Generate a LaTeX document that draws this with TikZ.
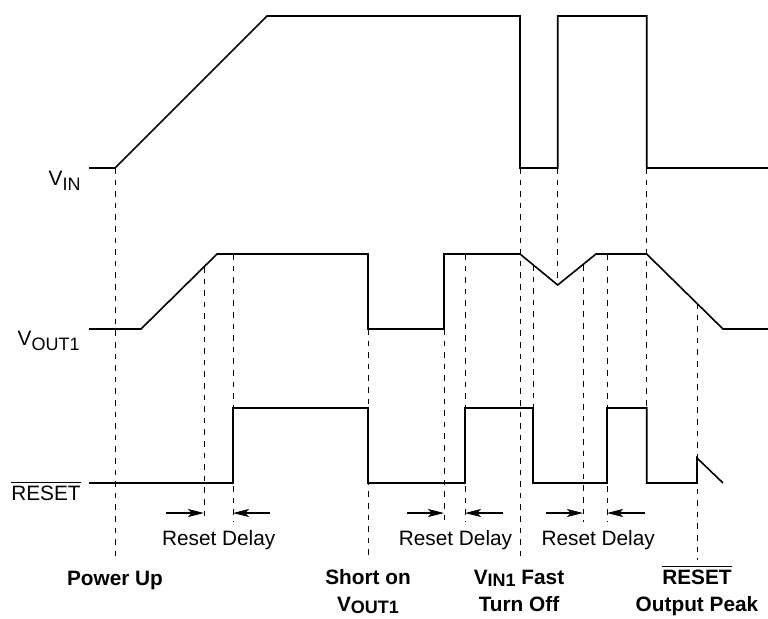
\documentclass[tikz,border=0pt]{standalone}
\usepackage{fontspec}
\setmainfont{Liberation Sans}
\usetikzlibrary{arrows.meta}
\newcommand\lowsub[1]{\raisebox{-0.25em}{\fontsize{9}{9}\selectfont #1}}
\newcommand\boldsub[1]{\raisebox{-0.12em}{\fontsize{9}{9}\selectfont #1}}
\newcommand\barred[1]{$\overline{\mbox{#1}}$}

\begin{document}
\begin{tikzpicture}[x=0.5pt, y=-0.5pt,
    wave/.style={line width=0.8pt, line join=miter},
    guide/.style={line width=0.45pt, dash pattern=on 2.8pt off 3pt},
    delay/.style={line width=0.6pt, -{Stealth[length=8pt, width=4pt, inset=1.8pt]}},
    lbl/.style={inner sep=0pt, font=\fontsize{10.4}{13.5}\selectfont},
    note/.style={inner sep=0pt, font=\fontsize{10.4}{13.5}\selectfont\bfseries, align=center, anchor=base}]
  \useasboundingbox (0,0) rectangle (768,618);

  \node[lbl, anchor=base east] (vin) at (81,185) {V\lowsub{IN}};
  \node[lbl, anchor=base east] (vout) at (80,345) {V\lowsub{OUT1}};
  \node[lbl, anchor=base east] (rst) at (81,500) {\barred{RESET}};

  \draw[wave] (89,168) -- (115,168) -- (267,16) -- (520,16) -- (520,168) -- (557.7,168) -- (557.7,16) -- (646.7,16) -- (646.7,168) -- (768,168);
  \draw[wave] (89,329) -- (141,329) -- (217,254) -- (368,254) -- (368,329) -- (444,329) -- (444,254) -- (520,254) -- (557.7,285) -- (596,254) -- (646.7,254) -- (723,329) -- (768,329);
  \draw[wave] (89,483) -- (233,483) -- (233,408) -- (368,408) -- (368,483) -- (465,483) -- (465,408) -- (533,408) -- (533,483) -- (607,483) -- (607,408) -- (646.7,408) -- (646.7,483) -- (697,483) -- (697,458) -- (723,483);

  \draw[guide] (115,168) -- (115,560);
  \draw[guide] (204,267) -- (204,522);
  \draw[guide] (233,254) -- (233,522);
  \draw[guide] (368,329) -- (368,560);
  \draw[guide] (444,329) -- (444,522);
  \draw[guide] (465,254) -- (465,522);
  \draw[guide] (520,168) -- (520,560);
  \draw[guide] (533,265) -- (533,408);
  \draw[guide] (557.7,168) -- (557.7,285);
  \draw[guide] (583,265) -- (583,522);
  \draw[guide] (607,254) -- (607,522);
  \draw[guide] (646.7,168) -- (646.7,408);
  \draw[guide] (697,303) -- (697,560);

  \coordinate (a1) at (166,513);
  \coordinate (b1) at (204,513);
  \coordinate (c1) at (233,513);
  \coordinate (d1) at (270,513);
  \coordinate (a2) at (406.7,513);
  \coordinate (b2) at (444,513);
  \coordinate (c2) at (465,513);
  \coordinate (d2) at (502.7,513);
  \coordinate (a3) at (545.7,513);
  \coordinate (b3) at (583,513);
  \coordinate (c3) at (607,513);
  \coordinate (d3) at (645,513);
  \draw[delay] (a1) -- (b1);
  \draw[delay] (d1) -- (c1);
  \draw[delay] (a2) -- (b2);
  \draw[delay] (d2) -- (c2);
  \draw[delay] (a3) -- (b3);
  \draw[delay] (d3) -- (c3);

  \node[lbl, anchor=base] (rd1) at (218.7,545) {Reset Delay};
  \node[lbl, anchor=base] (rd2) at (455.5,545) {Reset Delay};
  \node[lbl, anchor=base] (rd3) at (598.2,545) {Reset Delay};

  \node[note] (pwr) at (115,585) {Power Up};
  \node[note] (shrt) at (368,611) {Short on\\V\boldsub{OUT1}};
  \node[note] (fast) at (519,611) {V\boldsub{IN1} Fast\\Turn Off};
  \node[note] (peak) at (697,611) {\barred{RESET}\\Output Peak};
\end{tikzpicture}
\end{document}
